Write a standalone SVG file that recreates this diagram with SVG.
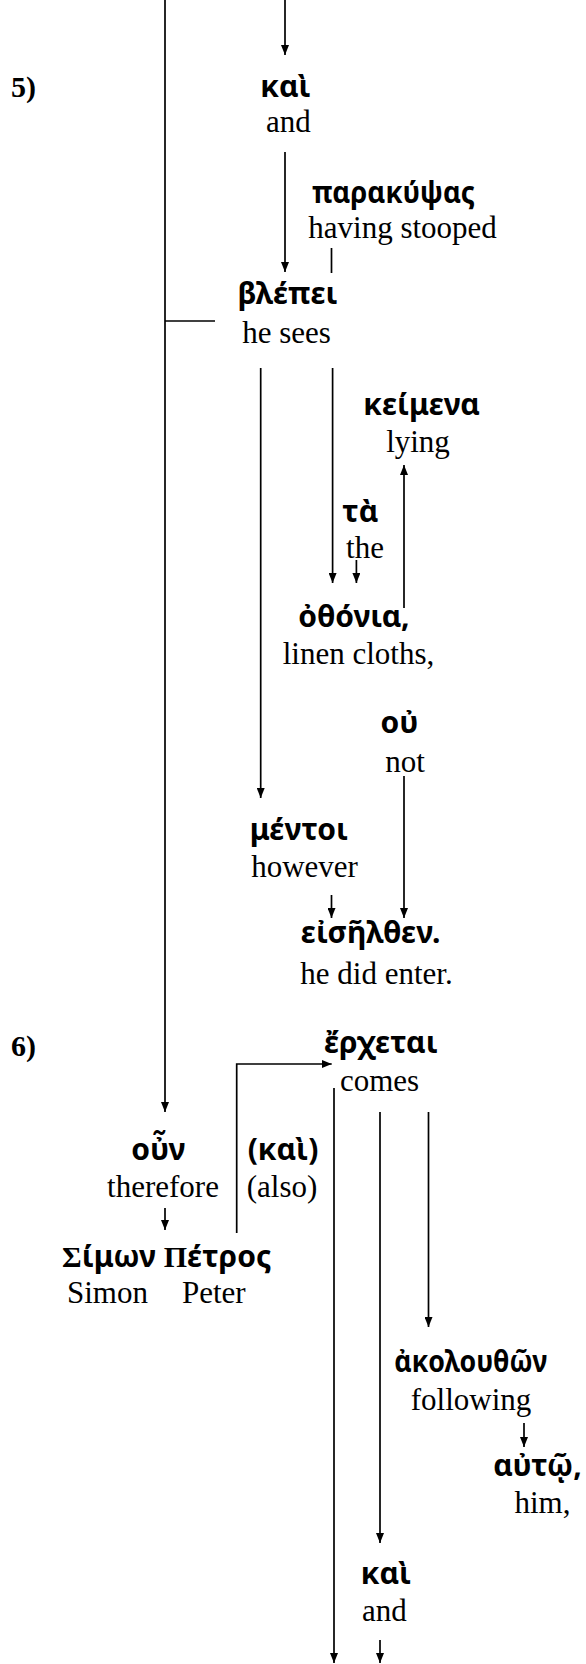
<svg xmlns="http://www.w3.org/2000/svg" width="586" height="1664" viewBox="0 0 586 1664">
<style>
.g{font-family:"Noto Sans","DejaVu Sans",sans-serif;font-weight:bold;font-size:30px;fill:#000;text-anchor:middle}
.e{font-family:"Liberation Serif","Times New Roman",serif;font-size:31px;fill:#000;text-anchor:middle}
.n{font-family:"Liberation Serif","Times New Roman",serif;font-weight:bold;font-size:30px;fill:#000}
.s{font-family:"Liberation Serif","Times New Roman",serif}
.c line,.c path{stroke:#000;stroke-width:1.7;fill:none}
</style>
<defs>
<marker id="ah" markerUnits="userSpaceOnUse" markerWidth="10" markerHeight="8" refX="10" refY="4" orient="auto" viewBox="0 0 10 8">
<path d="M0,0 L10,4 L0,8 Z" fill="#000"/>
</marker>
</defs>
<rect width="586" height="1664" fill="#fff"/>
<g class="c" id="connectors">
<line x1="165" y1="0" x2="165" y2="1112" marker-end="url(#ah)"/>
<line x1="165" y1="321" x2="215" y2="321"/>
<line x1="285" y1="0" x2="285" y2="55" marker-end="url(#ah)"/>
<line x1="285" y1="152" x2="285" y2="272" marker-end="url(#ah)"/>
<line x1="331.5" y1="248" x2="331.5" y2="273"/>
<line x1="260.7" y1="368" x2="260.7" y2="798" marker-end="url(#ah)"/>
<line x1="332.6" y1="368" x2="332.6" y2="583" marker-end="url(#ah)"/>
<line x1="404" y1="608" x2="404" y2="465" marker-end="url(#ah)"/>
<line x1="356.4" y1="560" x2="356.4" y2="583" marker-end="url(#ah)"/>
<line x1="404" y1="776" x2="404" y2="918" marker-end="url(#ah)"/>
<line x1="331.5" y1="895" x2="331.5" y2="918" marker-end="url(#ah)"/>
<path d="M236.7,1233 V1064 H331.7" marker-end="url(#ah)"/>
<line x1="334" y1="1088" x2="334" y2="1663" marker-end="url(#ah)"/>
<line x1="380" y1="1112" x2="380" y2="1543" marker-end="url(#ah)"/>
<line x1="428.5" y1="1112" x2="428.5" y2="1327" marker-end="url(#ah)"/>
<line x1="165" y1="1208" x2="165" y2="1230" marker-end="url(#ah)"/>
<line x1="524" y1="1423" x2="524" y2="1447" marker-end="url(#ah)"/>
<line x1="380" y1="1640" x2="380" y2="1663" marker-end="url(#ah)"/>
</g>
<text class="n" x="11" y="97">5)</text>
<text class="n" x="11" y="1056">6)</text>
<g id="kai1"><text class="g" x="285.5" y="97">καὶ</text><text class="e" x="288.5" y="132">and</text></g>
<g id="parakypsas"><text class="g" x="393.5" y="203" textLength="163" lengthAdjust="spacingAndGlyphs">παρακύψας</text><text class="e" x="402.6" y="238">having stooped</text></g>
<g id="blepei"><text class="g" x="287.5" y="304">βλέπει</text><text class="e" x="286.5" y="343">he sees</text></g>
<g id="keimena"><text class="g" x="421.7" y="415">κείμενα</text><text class="e" x="418" y="452">lying</text></g>
<g id="ta"><text class="g" x="360.3" y="522">τὰ</text><text class="e" x="365" y="558">the</text></g>
<g id="othonia"><text class="g" x="353.8" y="627">ὀθόνια,</text><text class="e" x="358.5" y="664">linen cloths,</text></g>
<g id="ou"><text class="g" x="399.4" y="733">οὐ</text><text class="e" x="405" y="772">not</text></g>
<g id="mentoi"><text class="g" x="298.9" y="840">μέντοι</text><text class="e" x="304.5" y="877">however</text></g>
<g id="eiselthen"><text class="g" x="370.6" y="943">εἰσῆλθεν.</text><text class="e" x="376.5" y="984">he did enter.</text></g>
<g id="erchetai"><text class="g" x="380.8" y="1053">ἔρχεται</text><text class="e" x="379.5" y="1091">comes</text></g>
<g id="oun"><text class="g" x="158.3" y="1160">οὖν</text><text class="e" x="163" y="1197">therefore</text></g>
<g id="kai2"><text class="g" x="283" y="1160">(καὶ)</text><text class="e" x="282" y="1197">(also)</text></g>
<g id="simon"><text class="g" x="166.7" y="1267"><tspan class="s">Σ</tspan>ίμων <tspan class="s">Π</tspan>έτρος</text><text class="e" y="1303" style="text-anchor:start"><tspan x="67">Simon</tspan><tspan x="182">Peter</tspan></text></g>
<g id="akolouthon"><text class="g" x="470.8" y="1372" textLength="153" lengthAdjust="spacingAndGlyphs">ἀκολουθῶν</text><text class="e" x="471" y="1410">following</text></g>
<g id="auto"><text class="g" x="537.5" y="1476">αὐτῷ,</text><text class="e" x="542.5" y="1513">him,</text></g>
<g id="kai3"><text class="g" x="386" y="1584">καὶ</text><text class="e" x="384.4" y="1621">and</text></g>
</svg>
